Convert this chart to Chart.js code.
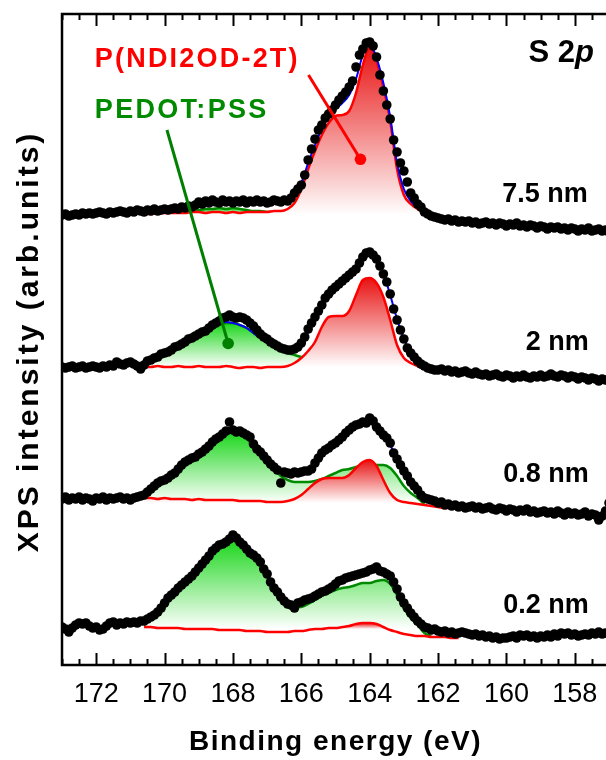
<!DOCTYPE html>
<html>
<head>
<meta charset="utf-8">
<title>S 2p XPS</title>
<script src="https://cdn.jsdelivr.net/npm/chart.js@4.4.0/dist/chart.umd.min.js"></script>
<style>
  html, body { margin: 0; padding: 0; background: #fff; overflow: hidden; }
  #wrap { width: 620px; height: 760px; }
</style>
</head>
<body>
<div id="wrap"><canvas id="xps" width="620" height="760"></canvas></div>
<script>
/***********************
 * DATA
 ***********************/
// binding energy axis (eV), labelled ticks
const xTickValues = [172, 170, 168, 166, 164, 162, 160, 158];

// film thickness of each spectrum, bottom to top
const thickness = ["0.2 nm", "0.8 nm", "2 nm", "7.5 nm"];
// vertical offset of each spectrum in the stack (arb. units)
const offsets = [40, 166, 298, 450];

// measured points: 173.0 -> 157.0 eV, 0.1 eV step
const scanEnergy = Array.from({ length: 161 }, (_, k) => +(173 - 0.1 * k).toFixed(1));

const dots_02 = [
  -2, -4, -7, -3, 0, 2, 1, 2, -1, -3,
  -2, -5, -4, -1, 2, 3, 0, 2, 1, 3,
  2, 3, 2, 4, 4, 6, 8, 10, 13, 17,
  22, 27, 30, 33, 37, 40, 43, 46, 49, 53,
  57, 61, 65, 69, 74, 77, 80, 81, 83, 86,
  90, 87, 83, 80, 76, 72, 70, 67, 63, 56,
  51, 43, 37, 33, 28, 24, 21, 20, 17, 22,
  23, 25, 26, 27, 29, 31, 33, 34, 36, 38,
  41, 44, 45, 47, 48, 49, 50, 51, 52, 53,
  55, 56, 58, 54, 53, 51, 49, 43, 36, 28,
  22, 17, 12, 8, 4, 1, -2, -3, -5, -4,
  -6, -7, -6, -8, -7, -9, -8, -7, -8, -9,
  -10, -9, -11, -10, -12, -11, -13, -12, -14, -13,
  -13, -12, -11, -13, -10, -11, -10, -12, -11, -13,
  -11, -12, -10, -12, -9, -11, -8, -9, -8, -10,
  -9, -11, -10, -9, -10, -8, -9, -7, -9, -8,
  -9
];
const dots_08 = [
  0, 2, -1, 1, 0, 2, -1, 1, 0, -2,
  1, 0, 2, -1, 1, 0, 1, 2, 0, 1,
  -1, 1, 2, 3, 4, 7, 10, 13, 16, 18,
  19, 21, 24, 26, 30, 34, 37, 39, 41, 42,
  45, 47, 50, 53, 57, 60, 62, 65, 68, 77,
  69, 67, 68, 66, 64, 62, 55, 50, 47, 43,
  39, 35, 32, 29, 16, 27, 26, 25, 27, 26,
  27, 28, 28, 30, 36, 41, 46, 49, 51, 54,
  56, 59, 62, 66, 69, 72, 74, 75, 77, 76,
  81, 78, 72, 68, 64, 61, 56, 46, 40, 34,
  28, 23, 17, 13, 9, 4, 1, 0, -1, -2,
  -4, -3, -6, -5, -7, -6, -8, -7, -9, -8,
  -7, -9, -8, -10, -9, -8, -10, -11, -9, -10,
  -12, -10, -11, -13, -11, -12, -10, -13, -12, -14,
  -13, -12, -14, -13, -15, -12, -14, -16, -13, -15,
  -14, -16, -15, -13, -17, -15, -16, -21, -17, -12,
  -4
];
const dots_2 = [
  0, -1, 0, 1, -1, 0, 1, -1, 0, 1,
  0, -1, 1, 0, 2, 1, 5, 3, 2, 4,
  5, 3, 1, -2, 2, 6, 7, 9, 10, 13,
  14, 15, 17, 20, 21, 23, 25, 28, 29, 31,
  33, 35, 36, 39, 42, 44, 46, 49, 50, 52,
  50, 49, 50, 49, 47, 44, 41, 37, 33, 30,
  28, 25, 23, 21, 19, 18, 17, 17, 18, 20,
  24, 30, 38, 44, 50, 56, 62, 69, 73, 77,
  80, 83, 86, 89, 92, 95, 98, 104, 110, 114,
  115, 112, 108, 101, 93, 85, 73, 58, 47, 37,
  28, 19, 14, 10, 6, 3, 1, -1, -2, -3,
  -3, -2, -4, -3, -5, -4, -6, -5, -4, -6,
  -7, -5, -7, -8, -7, -9, -8, -7, -9, -10,
  -8, -9, -11, -9, -10, -8, -10, -11, -9, -10,
  -8, -10, -9, -7, -9, -10, -8, -9, -11, -9,
  -10, -12, -10, -11, -13, -11, -12, -14, -12, -13,
  -14
];
const dots_75 = [
  0, 1, -1, 0, 1, 0, 2, 1, 2, 1,
  2, 3, 2, 1, 3, 2, 3, 4, 3, 2,
  4, 3, 5, 4, 3, 5, 4, 6, 4, 5,
  6, 5, 6, 7, 6, 8, 7, 9, 8, 10,
  13, 11, 14, 12, 15, 13, 12, 15, 13, 14,
  12, 14, 13, 15, 12, 14, 13, 15, 13, 14,
  12, 13, 15, 14, 13, 15, 14, 17, 22, 26,
  30, 40, 55, 66, 76, 85, 90, 97, 101, 105,
  110, 115, 119, 123, 128, 134, 148, 160, 166, 172,
  173, 169, 158, 140, 124, 110, 96, 75, 63, 52,
  44, 33, 22, 17, 11, 8, 3, 1, -1, -2,
  -3, -4, -5, -4, -6, -5, -7, -6, -7, -6,
  -8, -7, -9, -8, -7, -9, -8, -10, -8, -9,
  -11, -9, -10, -8, -11, -10, -12, -10, -11, -13,
  -11, -12, -14, -12, -13, -12, -14, -13, -15, -13,
  -14, -16, -14, -15, -13, -16, -15, -14, -16, -15,
  -17
];

// fitted curves: 170.6 -> 161.4 eV
const fitEnergy = [
  170.6, 170.4, 170.2, 170.0, 169.8, 169.6, 169.4, 169.2, 169.0, 168.8,
  168.6, 168.4, 168.2, 168.0, 167.8, 167.6, 167.4, 167.2, 167.0, 166.8,
  166.6, 166.4, 166.2, 166.0, 165.8, 165.6, 165.4, 165.2, 165.0, 164.8,
  164.6, 164.4, 164.2, 164.0, 163.8, 163.6, 163.4, 163.2, 163.0, 162.8,
  162.6, 162.4, 162.2, 162.0, 161.8, 161.6, 161.4
];

// envelope (blue)
const fit_02 = [1, 7, 13, 21, 29, 37, 43, 50, 57, 65, 74, 79, 84, 88, 84, 77, 70, 62, 51, 38,
  29, 23, 21, 22, 25, 28, 32, 36, 40, 44, 47, 50, 53, 55, 56, 54, 47, 34, 20, 10, 3, -2, -5, -6, -7, -8, -8];
const fit_08 = [4, 10, 16, 20, 25, 31, 37, 41, 45, 50, 57, 63, 68, 69, 67, 63, 55, 47, 40, 32,
  28, 26, 26, 27, 29, 36, 45, 51, 56, 61, 68, 73, 76, 78, 74, 65, 54, 40, 27, 16, 9, 2, -1, -3, -5, -6, -8];
const fit_2 = [2, 6, 10, 13, 17, 22, 25, 29, 34, 37, 41, 43, 45, 44, 42, 39, 34, 29, 25, 21,
  18, 16, 17, 23, 35, 47, 61, 72, 80, 86, 92, 98, 108, 113, 109, 94, 72, 48, 28, 14, 6, 1, -2, -3, -4, -5, -5];
const fit_75 = [3, 4, 4, 5, 5, 6, 7, 9, 11, 12, 13, 13, 13, 13, 13, 13, 13, 13, 13, 13,
  14, 15, 20, 32, 52, 70, 86, 98, 106, 112, 120, 136, 160, 171, 157, 132, 98, 52, 26, 14, 7, 3, 0, -2, -3, -4, -5];

// P(NDI2OD-2T) component (red)
const red_02 = [-2, -2, -3, -3, -3, -3, -4, -4, -4, -4, -4, -5, -5, -5, -5, -6, -6, -6, -7, -7,
  -7, -7, -6, -6, -5, -4, -4, -3, -3, -2, -1, 1, 2, 2, 1, -2, -5, -7, -9, -10, -11, -11, -12, -12, -12, -13, -13];
const red_08 = [1, 1, 0, 1, 0, 0, 0, -1, 0, -1, -1, -1, -1, -1, -2, -2, -2, -2, -3, -3,
  -3, -2, 0, 4, 10, 16, 20, 21, 21, 21, 24, 31, 37, 39, 33, 19, 6, -1, -3, -4, -5, -6, -7, -8, -9, -9, -10];
const red_2 = [0, 0, 1, 0, 0, 1, 0, 0, 1, 0, 0, 0, 1, 0, -1, 0, 0, -1, 0, 0,
  0, 1, 4, 9, 16, 25, 40, 50, 51, 51, 56, 72, 87, 89, 84, 70, 47, 22, 9, 4, 1, -2, -3, -4, -5, -6, -6];
const red_75 = [1, 1, 2, 2, 2, 2, 2, 3, 3, 2, 3, 3, 2, 3, 2, 3, 3, 3, 3, 4,
  4, 6, 12, 26, 46, 64, 80, 92, 99, 100, 104, 122, 150, 168, 154, 128, 94, 46, 20, 11, 6, 2, 0, -2, -3, -4, -5];

// PEDOT:PSS component (green), null where it is not drawn
const green_02 = [0, 6, 12, 20, 28, 36, 42, 49, 56, 63, 72, 78, 83, 86, 82, 75, 68, 60, 49, 37,
  28, 21, 18, 18, 21, 25, 29, 32, 35, 37, 38, 40, 42, 42, 44, 45, 41, 30, 17, 7, 0, -8, -11, null, null, null, null];
const green_08 = [3, 9, 15, 19, 24, 30, 36, 40, 44, 49, 55, 61, 66, 67, 65, 61, 53, 45, 38, 30,
  23, 19, 17, 17, 17, 18, 20, 23, 26, 29, 30, 32, 33, 34, 34, 34, 31, 23, 13, 6, 1, -5, null, null, null, null, null];
const green_2 = [1, 5, 9, 13, 17, 21, 25, 29, 33, 37, 40, 43, 44, 44, 42, 39, 34, 29, 25, 21,
  17, 14, 12, 10, 9, 8, 7, null, null, null, null, null, null, null, null, null, null, null, null, null,
  null, null, null, null, null, null, null];
const green_75 = [1, 2, 2, 3, 3, 3, 4, 5, 5, 6, 6, 7, 6, 7, 6, 5, 4, 4, 3, 3,
  3, 3, 3, 2, 2, null, null, null, null, null, null, null, null, null, null, null, null, null, null, null,
  null, null, null, null, null, null, null];

/***********************
 * STYLE
 ***********************/
const FONT = "'Liberation Sans', Arial, Helvetica, sans-serif";
const RED = "#ff0000";
const RED_TOP = "rgb(232,18,18)";
const GREEN = "#008a00";
const GREEN_TOP = "rgb(26,214,26)";
const BLUE = "#0000ff";
const fillBase = [-4, -4, 0, 0];

Chart.defaults.font.family = FONT;
Chart.defaults.color = "#000";

const spectra = [
  { dots: dots_02, fit: fit_02, red: red_02, green: green_02 },
  { dots: dots_08, fit: fit_08, red: red_08, green: green_08 },
  { dots: dots_2, fit: fit_2, red: red_2, green: green_2 },
  { dots: dots_75, fit: fit_75, red: red_75, green: green_75 }
];

function vGradient(chart, topVal, baseVal, color) {
  const { ctx, chartArea, scales } = chart;
  if (!chartArea || !scales.y) return "rgba(0,0,0,0)";
  const y0 = scales.y.getPixelForValue(topVal);
  const y1 = scales.y.getPixelForValue(baseVal);
  const g = ctx.createLinearGradient(0, y0, 0, y1);
  g.addColorStop(0, color);
  g.addColorStop(1, "#ffffff");
  return g;
}

const toPoints = (energy, vals, off) =>
  energy.map((e, k) => ({ x: e, y: vals[k] === null ? null : off + vals[k] }));
const peak = arr => Math.max(...arr.filter(v => v !== null));

/***********************
 * DATASETS
 * index 0-3 dots, 4-7 envelope, 8-11 red, 12-15 green
 * (lower index is drawn on top)
 ***********************/
const dotSets = spectra.map((s, i) => ({
  label: thickness[i],
  data: toPoints(scanEnergy, s.dots, offsets[i]),
  showLine: false,
  pointRadius: 4.8,
  pointBorderWidth: 0,
  pointBackgroundColor: "#000",
  borderColor: "#000",
  fill: false
}));

const fitSets = spectra.map((s, i) => ({
  label: thickness[i] + " fit",
  data: toPoints(fitEnergy, s.fit, offsets[i]),
  borderColor: BLUE,
  borderWidth: 2,
  pointRadius: 0,
  cubicInterpolationMode: "monotone",
  fill: false
}));

const redSets = spectra.map((s, i) => ({
  label: thickness[i] + " P(NDI2OD-2T)",
  data: toPoints(fitEnergy, s.red, offsets[i]),
  borderColor: RED,
  borderWidth: 2.5,
  pointRadius: 0,
  cubicInterpolationMode: "monotone",
  backgroundColor: c => vGradient(c.chart, offsets[i] + peak(s.red), offsets[i] + fillBase[i], RED_TOP),
  fill: { target: { value: offsets[i] + fillBase[i] }, below: "rgba(0,0,0,0)" }
}));

const greenSets = spectra.map((s, i) => ({
  label: thickness[i] + " PEDOT:PSS",
  data: toPoints(fitEnergy, s.green, offsets[i]),
  borderColor: GREEN,
  borderWidth: 2.5,
  pointRadius: 0,
  cubicInterpolationMode: "monotone",
  spanGaps: false,
  backgroundColor: c => vGradient(c.chart, offsets[i] + peak(s.green), offsets[i] + fillBase[i], GREEN_TOP),
  fill: { target: 8 + i, below: "rgba(0,0,0,0)" }
}));

/***********************
 * FRAME, TICKS, LABELS
 ***********************/
const annotations = {
  pointers: [
    { from: [165.79, 590], to: [164.27, 505.7], color: RED },
    { from: [169.93, 535], to: [168.14, 321.5], color: "#008000" }
  ],
  texts: [
    { text: "P(NDI2OD-2T)", at: [172.04, 598], align: "left", color: RED, size: 27, spacing: 2.2 },
    { text: "PEDOT:PSS", at: [172.04, 547], align: "left", color: GREEN, size: 27, spacing: 2.3 },
    { text: "7.5 nm", at: [157.62, 463], align: "right", color: "#000", size: 27, spacing: 0 },
    { text: "2 nm", at: [157.59, 315], align: "right", color: "#000", size: 27, spacing: 0 },
    { text: "0.8 nm", at: [157.59, 183], align: "right", color: "#000", size: 27, spacing: 0 },
    { text: "0.2 nm", at: [157.59, 52], align: "right", color: "#000", size: 27, spacing: 0 }
  ]
};

const xpsFrame = {
  id: "xpsFrame",
  afterDatasetsDraw(chart) {
    const { ctx, chartArea: a, scales: { x, y } } = chart;
    ctx.save();

    // pointers
    annotations.pointers.forEach(p => {
      const x0 = x.getPixelForValue(p.from[0]), y0 = y.getPixelForValue(p.from[1]);
      const x1 = x.getPixelForValue(p.to[0]), y1 = y.getPixelForValue(p.to[1]);
      ctx.strokeStyle = p.color;
      ctx.fillStyle = p.color;
      ctx.lineWidth = 3;
      ctx.beginPath();
      ctx.moveTo(x0, y0);
      ctx.lineTo(x1, y1);
      ctx.stroke();
      ctx.beginPath();
      ctx.arc(x1, y1, 5.8, 0, Math.PI * 2);
      ctx.fill();
    });

    // frame
    ctx.strokeStyle = "#000";
    ctx.lineWidth = 2.5;
    ctx.beginPath();
    ctx.moveTo(a.right, a.top);
    ctx.lineTo(a.left, a.top);
    ctx.lineTo(a.left, a.bottom);
    ctx.lineTo(a.right, a.bottom);
    ctx.lineTo(a.right, a.top);
    ctx.stroke();

    // inward ticks, top and bottom
    ctx.lineWidth = 2;
    for (let v = x.min; v <= x.max + 1e-6; v += 0.5) {
      const px = Math.round(x.getPixelForValue(v)) + 0.5;
      const len = Math.abs(v % 2) < 1e-6 ? 12 : 6;
      ctx.beginPath();
      ctx.moveTo(px, a.bottom);
      ctx.lineTo(px, a.bottom - len);
      ctx.moveTo(px, a.top);
      ctx.lineTo(px, a.top + len);
      ctx.stroke();
    }

    // text labels
    ctx.textBaseline = "alphabetic";
    annotations.texts.forEach(t => {
      ctx.font = `bold ${t.size}px ${FONT}`;
      ctx.letterSpacing = t.spacing + "px";
      ctx.fillStyle = t.color;
      ctx.textAlign = t.align;
      ctx.fillText(t.text, x.getPixelForValue(t.at[0]), y.getPixelForValue(t.at[1]));
    });

    // "S 2p" with italic p
    ctx.letterSpacing = "0px";
    ctx.textAlign = "left";
    ctx.fillStyle = "#000";
    const sx = x.getPixelForValue(157.44), sy = y.getPixelForValue(603);
    ctx.font = `bold 31px ${FONT}`;
    const w1 = ctx.measureText("S 2").width;
    ctx.font = `italic bold 31px ${FONT}`;
    const w2 = ctx.measureText("p").width;
    ctx.font = `bold 31px ${FONT}`;
    ctx.fillText("S 2", sx - w1 - w2, sy);
    ctx.font = `italic bold 31px ${FONT}`;
    ctx.fillText("p", sx - w2, sy);

    // axis titles
    ctx.font = `bold 28px ${FONT}`;
    ctx.letterSpacing = "1.5px";
    ctx.textAlign = "center";
    ctx.fillText("Binding energy (eV)", x.getPixelForValue(165), a.bottom + 85);

    ctx.save();
    ctx.translate(30, (a.top + a.bottom) / 2 + 2);
    ctx.rotate(-Math.PI / 2);
    ctx.font = `bold 30px ${FONT}`;
    ctx.letterSpacing = "3px";
    ctx.textBaseline = "middle";
    ctx.fillText("XPS intensity (arb.units)", 0, 0);
    ctx.restore();

    ctx.restore();
  }
};

/***********************
 * CHART
 ***********************/
new Chart(document.getElementById("xps"), {
  type: "line",
  data: { datasets: [...dotSets, ...fitSets, ...redSets, ...greenSets] },
  options: {
    responsive: false,
    animation: false,
    devicePixelRatio: 1,
    layout: { padding: { left: 62, top: 14, right: 11, bottom: 0 } },
    plugins: { legend: { display: false }, tooltip: { enabled: false } },
    scales: {
      x: {
        type: "linear",
        min: 157,
        max: 173,
        reverse: true,
        afterBuildTicks: s => { s.ticks = xTickValues.map(v => ({ value: v })); },
        afterFit: s => { s.height = 95; },
        grid: { display: false, drawTicks: false },
        border: { display: false },
        ticks: { font: { size: 27 }, color: "#000", padding: 13, maxRotation: 0, autoSkip: false }
      },
      y: { type: "linear", min: 0, max: 651, display: false }
    }
  },
  plugins: [xpsFrame]
});
</script>
</body>
</html>
